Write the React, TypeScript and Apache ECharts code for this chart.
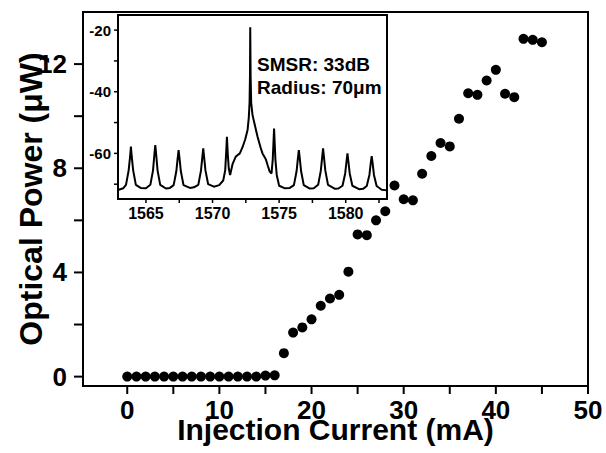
import React, { useEffect, useRef } from 'react';
import * as echarts from 'echarts';

const FONT = '"Liberation Sans", Arial, Helvetica, sans-serif';

// Main L-I curve
const current = [0, 1, 2, 3, 4, 5, 6, 7, 8, 9, 10, 11, 12, 13, 14, 15, 16, 17, 18, 19, 20, 21, 22, 23, 24, 25, 26, 27, 28, 29, 30, 31, 32, 33, 34, 35, 36, 37, 38, 39, 40, 41, 42, 43, 44, 45];
const power = [0, 0, 0, 0, 0, 0, 0, 0, 0, 0, 0, 0, 0, 0, 0, 0.04, 0.05, 0.9, 1.69, 1.89, 2.2, 2.72, 3.0, 3.14, 4.03, 5.46, 5.43, 6.0, 6.35, 7.34, 6.81, 6.77, 7.79, 8.47, 8.97, 8.84, 9.9, 10.88, 10.82, 11.37, 11.78, 10.86, 10.73, 12.97, 12.93, 12.84];

// Inset spectrum
const wavelength = [
  1562.95, 1563.3, 1563.5, 1563.7, 1563.81, 1563.87, 1563.93, 1564.04, 1564.24, 1564.6, 1565.0,
  1565.33, 1565.53, 1565.62, 1565.7, 1565.78, 1565.87, 1566.07, 1566.5, 1566.8,
  1567.08, 1567.28, 1567.37, 1567.45, 1567.53, 1567.62, 1567.82, 1568.3, 1568.6,
  1568.93, 1569.13, 1569.22, 1569.3, 1569.38, 1569.47, 1569.67, 1570.1, 1570.5, 1570.8,
  1570.95, 1571.02, 1571.08, 1571.14, 1571.22, 1571.32, 1571.5, 1571.75, 1572.05, 1572.25, 1572.45, 1572.63, 1572.72, 1572.78, 1572.81, 1572.83,
  1572.86, 1572.9, 1573.0, 1573.13, 1573.38, 1573.6, 1573.75, 1574.0, 1574.15, 1574.3, 1574.43,
  1574.52, 1574.57, 1574.62, 1574.67, 1574.72, 1574.82, 1575.0, 1575.4, 1575.8,
  1576.11, 1576.31, 1576.4, 1576.48, 1576.56, 1576.65, 1576.85, 1577.3, 1577.6,
  1577.93, 1578.13, 1578.22, 1578.3, 1578.38, 1578.47, 1578.67, 1579.2, 1579.45,
  1579.76, 1579.96, 1580.05, 1580.13, 1580.21, 1580.3, 1580.5, 1581.0, 1581.3,
  1581.58, 1581.78, 1581.87, 1581.95, 1582.03, 1582.12, 1582.32, 1582.7, 1583.1,
];
const spectrum = [
  -71.8, -71.3, -70.2, -65.5, -61.0, -57.8, -61.0, -65.5, -70.2, -71.2, -71.3,
  -70.2, -65.5, -61.0, -57.3, -61.0, -65.5, -70.2, -71.4, -71.2,
  -70.3, -65.8, -62.0, -58.9, -62.0, -65.8, -70.3, -71.2, -71.0,
  -70.2, -65.6, -61.8, -58.4, -61.8, -65.6, -70.0, -70.8, -70.3, -68.8,
  -65.5, -60.0, -54.6, -60.0, -65.0, -67.0, -63.5, -61.0, -60.0, -58.0, -55.5, -52.4, -48.5, -43.5, -35.0, -19.1,
  -35.0, -43.5, -47.5, -50.0, -54.6, -58.0, -60.0, -61.9, -64.0, -66.0, -66.5,
  -62.0, -57.0, -51.9, -57.0, -62.0, -67.0, -70.5, -71.3, -71.2,
  -70.3, -65.8, -62.0, -58.9, -62.0, -65.8, -70.3, -71.4, -71.3,
  -70.2, -65.6, -61.8, -58.4, -61.8, -65.6, -70.2, -71.5, -71.4,
  -70.5, -66.5, -63.0, -60.0, -63.0, -66.5, -70.5, -71.6, -71.5,
  -70.6, -67.0, -63.5, -60.9, -63.5, -67.0, -70.6, -71.8, -72.0,
];

const mainXRange = [-4.8, 50];
const mainYRange = [-0.36, 14];
const insetXRange = [1562.9, 1583.1];
const insetYRange = [-74.8, -15.1];
const mainXTicks = [0, 5, 10, 15, 20, 25, 30, 35, 40, 45, 50];
const mainXLabels = [0, 10, 20, 30, 40, 50];
const mainYTicks = [0, 2, 4, 6, 8, 10, 12];
const mainYLabels = [0, 4, 8, 12];
const insetXTicks = [1565, 1567.5, 1570, 1572.5, 1575, 1577.5, 1580, 1582.5];
const insetXLabels = [1565, 1570, 1575, 1580];
const insetYTicks = [-70, -60, -50, -40, -30, -20];
const insetYLabels = [-60, -40, -20];
const annotations = ['SMSR: 33dB', 'Radius: 70μm'];

export default function App() {
  const ref = useRef<HTMLDivElement>(null);
  useEffect(() => {
    const chart = echarts.init(ref.current!, null, { renderer: 'svg' });
    const black = '#000';

    const lbl = (size: number, margin: number, custom: number[]) => ({
      show: true,
      customValues: custom,
      fontSize: size,
      fontWeight: 'bold',
      color: black,
      fontFamily: FONT,
      margin,
      hideOverlap: false,
      formatter: (v: number) => String(v),
    });
    const axis = (gridIndex: number, range: number[], size: number, margin: number, custom: number[], extra: any = {}) => ({
      gridIndex, type: 'value', min: range[0], max: range[1],
      axisLine: { show: true, onZero: false, lineStyle: { color: black, width: 2 } },
      axisTick: { show: false },
      axisLabel: lbl(size, margin, custom),
      splitLine: { show: false },
      ...extra,
    });
    const nameStyle = (size: number) => ({ fontSize: size, fontWeight: 'bold', color: black, fontFamily: FONT });

    // tick marks placed through the axes' own scales
    const tickSeries = (xi: number, yi: number, data: number[][], size: number[], offset: number[]) => ({
      type: 'scatter', xAxisIndex: xi, yAxisIndex: yi, data,
      symbol: 'rect', symbolSize: size, symbolOffset: offset,
      clip: false, silent: true, z: 10,
      itemStyle: { color: black, opacity: 1 },
      emphasis: { disabled: true },
    });

    chart.setOption({
      animation: false,
      backgroundColor: '#fff',
      grid: [
        { left: 83, top: 12, right: 18, bottom: 67, show: true, borderColor: black, borderWidth: 2, outerBoundsMode: 'none', containLabel: false },
        { left: 118, top: 15, width: 269, height: 184, show: true, borderColor: black, borderWidth: 2, backgroundColor: '#fff', outerBoundsMode: 'none', containLabel: false },
      ],
      xAxis: [
        axis(0, mainXRange, 26, 11, mainXLabels, {
          name: 'Injection Current (mA)', nameLocation: 'middle', nameGap: 28, nameMoveOverlap: false, nameTextStyle: nameStyle(30),
        }),
        axis(1, insetXRange, 16, 6, insetXLabels),
      ],
      yAxis: [
        axis(0, mainYRange, 26, 16, mainYLabels, {
          name: 'Optical Power (μW)', nameLocation: 'middle', nameGap: 36, nameMoveOverlap: false, nameTextStyle: nameStyle(32),
        }),
        axis(1, insetYRange, 15, 7, insetYLabels),
      ],
      series: [
        {
          type: 'scatter', xAxisIndex: 0, yAxisIndex: 0,
          data: current.map((c, i) => [c, power[i]]),
          symbol: 'circle', symbolSize: 10,
          itemStyle: { color: black, opacity: 1 },
        },
        {
          type: 'line', xAxisIndex: 1, yAxisIndex: 1,
          data: wavelength.map((w, i) => [w, spectrum[i]]),
          symbol: 'none', showSymbol: false,
          lineStyle: { color: black, width: 2 },
        },
        tickSeries(0, 0, mainXTicks.map((v) => [v, mainYRange[0]]), [2, 8], [0, 4]),
        tickSeries(0, 0, mainYTicks.map((v) => [mainXRange[0], v]), [9, 2], [-4.5, 0]),
        tickSeries(1, 1, insetXTicks.map((v) => [v, insetYRange[0]]), [1.5, 4], [0, 2]),
        tickSeries(1, 1, insetYTicks.map((v) => [insetXRange[0], v]), [4, 1.5], [-2, 0]),
      ],
      graphic: annotations.map((t, i) => ({
        type: 'text', left: 257, top: 55 + i * 23, z: 100,
        style: { text: t, font: `bold 19px ${FONT}`, fill: black },
      })),
    });
    return () => chart.dispose();
  }, []);
  return <div ref={ref} style={{ width: 606, height: 453, position: 'fixed', left: 0, top: 0 }} />;
}
